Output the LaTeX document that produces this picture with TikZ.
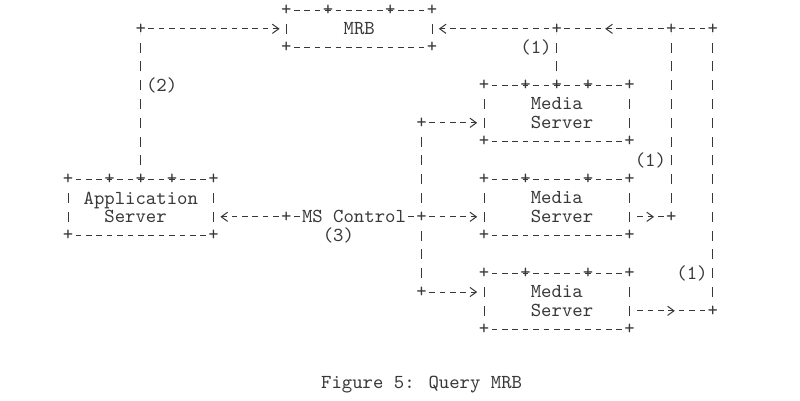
\documentclass[tikz,border=0pt]{standalone}
\usepackage{tikz}
\usetikzlibrary{positioning}
\usetikzlibrary{arrows.meta}
\definecolor{asciiColor}{rgb}{0.22,0.22,0.22}

\begin{document}
\begin{tikzpicture}[x=5.2pt,y=-9.4pt]

          \tikzstyle{textNode} = [asciiColor, font=\ttfamily\fontsize{9.9pt}{9.4pt}\selectfont, inner sep=0pt, outer sep=0pt];
          \tikzstyle{boxNode} = [textNode, minimum width=72.8pt, align=left];
          \tikzstyle{plusNode} = [textNode];

          \tikzstyle{hEdge} = [asciiColor, line width=0.5pt, dash pattern=on 2.8pt off 2.4pt, dash phase=2.8pt, shorten <=1.4pt, shorten >=1.4pt];
          \tikzstyle{vEdge} = [asciiColor, line width=0.45pt, dash pattern=on 5pt off 4.4pt, dash phase=5pt, shorten <=2.5pt, shorten >=2.5pt];
          \tikzstyle{arrowEdge} = [hEdge, -{Straight Barb[length=3.2pt,width=4.6pt,sep=2pt]}, shorten >=1.4pt];
          \tikzstyle{midArrowEdge} = [hEdge, -{Straight Barb[length=3.2pt,width=4.6pt,sep=2pt]}, shorten >=-3.8pt];

          \fill[white] (-6.538,-0.532) rectangle (70.385,20.745);
          \useasboundingbox (-6.538,-0.532) rectangle (70.385,20.745);

          \node[boxNode, minimum height=18.8pt] (mrb) at (28,1) {MRB};
          \node[boxNode, minimum height=28.2pt] (ms1) at (47,5.5) {\hphantom{M}Media\\\hphantom{M}Server};
          \node[boxNode, minimum height=28.2pt] (ms2) at (47,10.5) {\hphantom{M}Media\\\hphantom{M}Server};
          \node[boxNode, minimum height=28.2pt] (ms3) at (47,15.5) {\hphantom{M}Media\\\hphantom{M}Server};
          \node[boxNode, minimum height=28.2pt] (app) at (7,10.5) {Application\\\hphantom{MM}Server};
          \node[textNode] (ctrl) at (27.5,11) {MS Control};

          \coordinate (toMrb) at (7,1);
          \coordinate (fromMs1) at (47,1);
          \coordinate (arrowTop) at (52,1);
          \coordinate (fromMs2) at (58,1);
          \coordinate (fromMs3) at (62,1);
          \coordinate (ms2Out) at (58,11);
          \coordinate (ms2Arrow) at (56,11);
          \coordinate (ms3Out) at (62,16);
          \coordinate (ms3Arrow) at (58,16);
          \coordinate (ctrlLeft) at (21,11);
          \coordinate (ctrlSplit) at (34,11);
          \coordinate (ctrlUp) at (34,6);
          \coordinate (ctrlDown) at (34,15);

          \foreach \b in {mrb,ms1,ms2,ms3,app} {
            \draw[hEdge] (\b.north west) -- (\b.north east);
            \draw[hEdge] (\b.south west) -- (\b.south east);
            \draw[vEdge] (\b.north west) -- (\b.south west);
            \draw[vEdge] (\b.north east) -- (\b.south east);
          }

          \draw[vEdge] (app.north) -- (toMrb);
          \draw[arrowEdge] (toMrb) -- (mrb.west);
          \draw[vEdge] (ms1.north) -- (fromMs1);
          \draw[arrowEdge] (fromMs1) -- (mrb.east);
          \draw[hEdge] (fromMs1) -- (arrowTop);
          \draw[midArrowEdge] (fromMs2) -- (arrowTop);
          \draw[hEdge] (fromMs3) -- (fromMs2);
          \draw[vEdge] (ms2Out) -- (fromMs2);
          \draw[vEdge] (ms3Out) -- (fromMs3);
          \draw[midArrowEdge] (ms2Out -| ms2.east) -- (ms2Arrow);
          \draw[hEdge] (ms2Arrow) -- (ms2Out);
          \draw[midArrowEdge] (ms3Out -| ms3.east) -- (ms3Arrow);
          \draw[hEdge] (ms3Arrow) -- (ms3Out);

          \draw[arrowEdge] (ctrlLeft) -- (ctrlLeft -| app.east);
          \draw[hEdge, shorten >=0pt] (ctrlLeft) -- (ctrl.west);
          \draw[hEdge, shorten >=0pt] (ctrlSplit) -- (ctrl.east);
          \draw[vEdge] (ctrlUp) -- (ctrlSplit);
          \draw[vEdge] (ctrlSplit) -- (ctrlDown);
          \draw[arrowEdge] (ctrlUp) -- (ctrlUp -| ms1.west);
          \draw[arrowEdge] (ctrlSplit) -- (ms2.west |- ctrlSplit);
          \draw[arrowEdge] (ctrlDown) -- (ctrlDown -| ms3.west);

          \foreach \p [count=\i] in {(mrb.north west),(25,0),(31,0),(mrb.north east),(mrb.south west),(mrb.south east),
                                     (ms1.north west),(44,4),(50,4),(ms1.north east),(ms1.south west),(ms1.south east),
                                     (ms2.north west),(44,9),(50,9),(ms2.north east),(ms2.south west),(ms2.south east),
                                     (ms3.north west),(44,14),(50,14),(ms3.north east),(ms3.south west),(ms3.south east),
                                     (app.north west),(4,9),(10,9),(app.north east),(app.south west),(app.south east),
                                     (ms1.north),(app.north),(toMrb),(fromMs1),(fromMs2),(fromMs3),(ms2Out),(ms3Out),
                                     (ctrlLeft),(ctrlSplit),(ctrlUp),(ctrlDown)}
            \node[plusNode] (plus\i) at \p {+};

          \node[textNode] (lblTwo) at (9,4) {(2)};
          \node[textNode] (lblOneTop) at (45,2) {(1)};
          \node[textNode] (lblOneMid) at (56,8) {(1)};
          \node[textNode] (lblOneLow) at (60,14) {(1)};
          \node[textNode] (lblThree) at (26,12) {(3)};
          \node[textNode] (caption) at (34,19.9) {Figure 5: Query MRB};
        \end{tikzpicture}
\end{document}
